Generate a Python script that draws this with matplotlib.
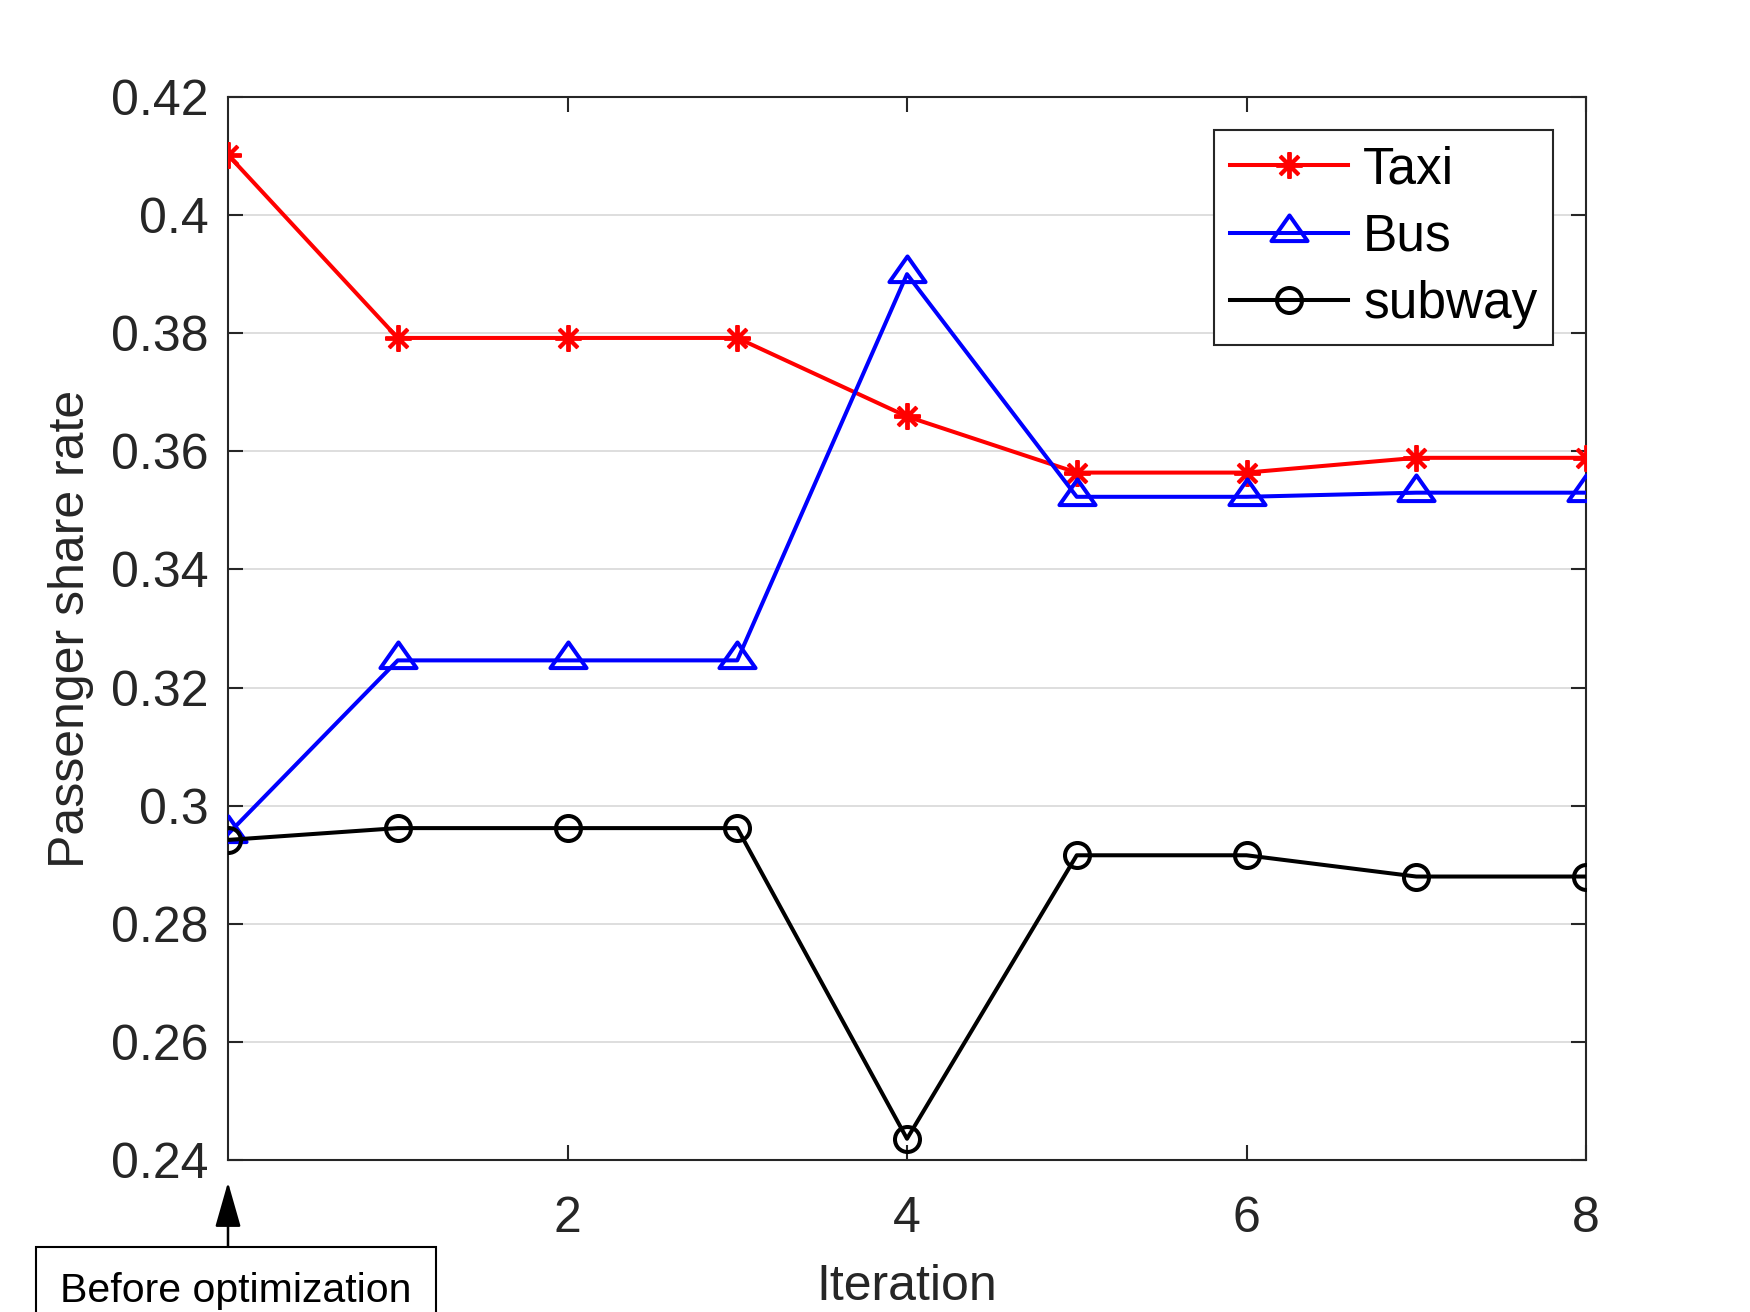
import matplotlib
matplotlib.use("Agg")
import matplotlib.pyplot as plt
from matplotlib.path import Path
import numpy as np

plt.rcParams['font.family'] = ['Liberation Sans', 'DejaVu Sans']

iterations = [0, 1, 2, 3, 4, 5, 6, 7, 8]
taxi = [0.4102, 0.3792, 0.3792, 0.3792, 0.3659, 0.3564, 0.3564, 0.3589, 0.3589]
bus = [0.2952, 0.3246, 0.3246, 0.3246, 0.3900, 0.3523, 0.3523, 0.3530, 0.3530]
subway = [0.2942, 0.2962, 0.2962, 0.2962, 0.2436, 0.2916, 0.2916, 0.2880, 0.2880]
series_names = ["Taxi", "Bus", "subway"]
x_ticks = [2, 4, 6, 8]
y_ticks = [0.24, 0.26, 0.28, 0.30, 0.32, 0.34, 0.36, 0.38, 0.40, 0.42]
y_tick_labels = ["0.24", "0.26", "0.28", "0.3", "0.32", "0.34", "0.36", "0.38", "0.4", "0.42"]

W, H = 1750, 1312
fig = plt.figure(figsize=(17.5, 13.12), dpi=100)
ax = fig.add_axes([228 / W, 1 - 1160 / H, (1586 - 228) / W, (1160 - 97) / H])

dark = (0.15, 0.15, 0.15)
tri = Path([(-1.0, -0.42), (1.0, -0.42), (0.0, 1.0), (-1.0, -0.42)],
           [Path.MOVETO, Path.LINETO, Path.LINETO, Path.CLOSEPOLY])

lw = 2.9
ax.plot(iterations, taxi, color=(1, 0, 0), lw=lw, marker=(8, 2, 0), ms=19, mew=2.8,
        label=series_names[0], zorder=3)
ax.plot(iterations, bus, color=(0, 0, 1), lw=lw, marker=tri, ms=26, mew=2.9,
        mfc='none', label=series_names[1], zorder=3)
ax.plot(iterations, subway, color='k', lw=lw, marker='o', ms=18, mew=2.9,
        mfc='none', label=series_names[2], zorder=3)

ax.set_xlim(0, 8)
ax.set_ylim(0.24, 0.42)
ax.set_xticks(x_ticks)
ax.set_yticks(y_ticks)
ax.set_yticklabels(y_tick_labels)
ax.yaxis.grid(True, color=(0.87, 0.87, 0.87), lw=1.4)
ax.set_axisbelow(True)

for s in ax.spines.values():
    s.set_color(dark)
    s.set_linewidth(1.5)
ax.tick_params(direction='in', length=11, width=1.5, color=dark, labelcolor=dark,
               labelsize=36, top=True, right=True)
ax.tick_params(axis='x', pad=26)
ax.tick_params(axis='y', pad=14)

ax.set_xlabel("Iteration", fontsize=36, color=dark, labelpad=16)
ax.set_ylabel("Passenger share rate", fontsize=36, color=dark, labelpad=12)

leg = fig.legend(loc='upper right', bbox_to_anchor=(1553 / W, 1 - 130 / H),
                 fontsize=37, frameon=True, fancybox=False, framealpha=1,
                 handlelength=2.3, handletextpad=0.3, labelspacing=0.36,
                 borderpad=0.3, borderaxespad=0)
leg.get_frame().set_edgecolor(dark)
leg.get_frame().set_linewidth(1.5)

fig.text(236 / W, 1 - 1302 / H, "Before optimization", fontsize=29.5, ha='center',
         va='baseline', color='k',
         bbox=dict(boxstyle='square,pad=0.6', fc='white', ec='k', lw=1.5))
ax.annotate('', xy=(0, 0.24), xycoords='data',
            xytext=(228 / W, 1 - 1247 / H), textcoords='figure fraction',
            arrowprops=dict(arrowstyle='-|>,head_length=2.8,head_width=0.8',
                            mutation_scale=10, color='k', lw=1.8,
                            shrinkA=0, shrinkB=16),
            annotation_clip=False)

fig.savefig("out.png", dpi=100, facecolor='white')
